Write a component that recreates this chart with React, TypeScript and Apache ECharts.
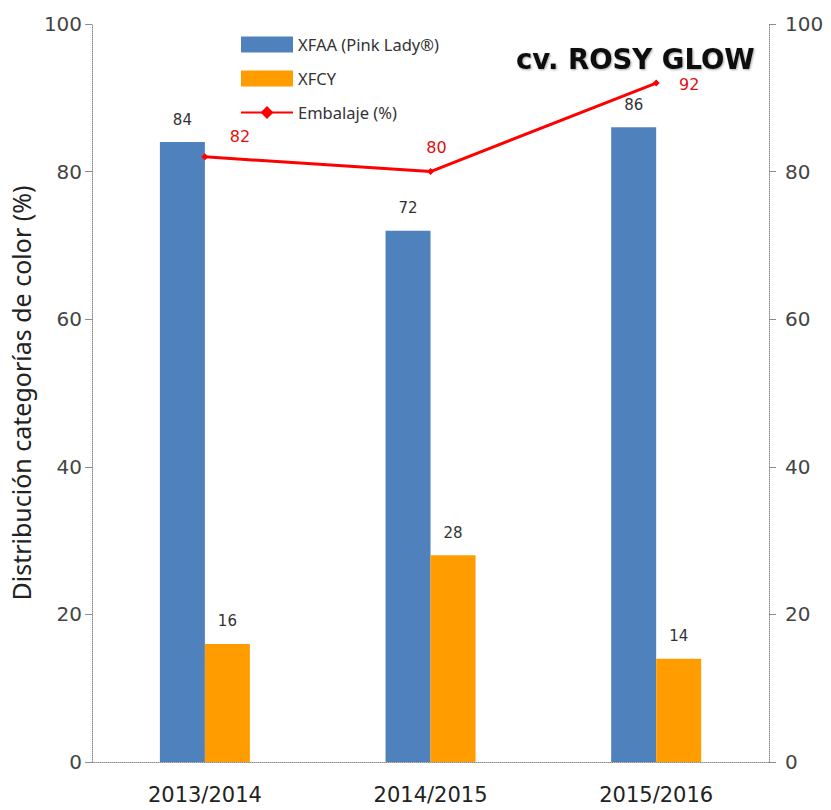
import React, { useEffect, useRef } from "react";
import * as echarts from "echarts";

const categories = ["2013/2014", "2014/2015", "2015/2016"];
const xfaaValues = [84, 72, 86];
const xfcyValues = [16, 28, 14];
const embalajeValues = [82, 80, 92];
const yTicks = [0, 20, 40, 60, 80, 100];

export default function App() {
  const ref = useRef<HTMLDivElement>(null);
  useEffect(() => {
    if (!ref.current) return;
    const chart = echarts.init(ref.current, null, { renderer: "svg" });
    const lineOffsets = [
      [35, -4],
      [6, -8],
      [33, 18],
    ];
    const axisLineStyle = { color: "#8c8c8c", type: "dotted" as const, width: 1 };
    const yAxisBase = {
      type: "value" as const,
      min: yTicks[0],
      max: yTicks[yTicks.length - 1],
      interval: 20,
      splitLine: { show: false },
      axisLine: { show: true, lineStyle: axisLineStyle },
      axisTick: { show: true, length: 7, lineStyle: { color: "#8c8c8c" } },
    };
    chart.setOption({
      animation: false,
      backgroundColor: "#ffffff",
      title: {
        text: "cv. ROSY GLOW",
        left: 511,
        top: 40,
        textStyle: {
          fontFamily: "DejaVu Sans",
          fontWeight: "bold",
          fontSize: 27.5,
          color: "#111",
          textShadowColor: "rgba(0,0,0,0.35)",
          textShadowBlur: 2,
          textShadowOffsetX: 1,
          textShadowOffsetY: 1,
        },
      },
      legend: {
        orient: "vertical",
        left: 235,
        top: 31,
        itemWidth: 52,
        itemHeight: 16,
        itemGap: 17,
        textStyle: { fontFamily: "Noto Sans", fontSize: 16.5, color: "#333" },
        data: [
          { name: "XFAA (Pink Lady®)", icon: "rect" },
          { name: "XFCY", icon: "rect" },
          { name: "Embalaje (%)", itemStyle: { borderWidth: 0 } },
        ],
      },
      grid: { left: 90, right: 62, top: 24, bottom: 48 },
      xAxis: {
        type: "category",
        data: categories,
        axisLine: { show: true, lineStyle: axisLineStyle },
        axisTick: { show: false },
        axisLabel: {
          margin: 22,
          fontFamily: "DejaVu Sans",
          fontSize: 21,
          color: "#222",
        },
      },
      yAxis: [
        {
          ...yAxisBase,
          position: "left",
          name: "Distribución categorías de color (%)",
          nameLocation: "middle",
          nameGap: 52,
          nameTextStyle: { fontFamily: "Noto Sans", fontSize: 25, color: "#222" },
          axisLabel: { margin: 10, fontFamily: "DejaVu Sans", fontSize: 20, color: "#444" },
        },
        {
          ...yAxisBase,
          position: "right",
          axisLabel: { margin: 16, fontFamily: "DejaVu Sans", fontSize: 20, color: "#444" },
        },
      ],
      series: [
        {
          name: "XFAA (Pink Lady®)",
          type: "bar",
          data: xfaaValues,
          barWidth: 45,
          barGap: "0%",
          itemStyle: { color: "#4f81bd" },
          label: {
            show: true,
            position: "top",
            distance: 15,
            fontFamily: "DejaVu Sans",
            fontSize: 15,
            color: "#333",
          },
        },
        {
          name: "XFCY",
          type: "bar",
          data: xfcyValues,
          barWidth: 45,
          barGap: "0%",
          itemStyle: { color: "#ff9c00" },
          label: {
            show: true,
            position: "top",
            distance: 15,
            fontFamily: "DejaVu Sans",
            fontSize: 15,
            color: "#333",
          },
        },
        {
          name: "Embalaje (%)",
          type: "line",
          yAxisIndex: 1,
          data: embalajeValues.map((v, i) => ({
            value: v,
            label: { offset: lineOffsets[i] },
          })),
          symbol: "diamond",
          symbolSize: 7,
          lineStyle: { color: "#ff0000", width: 3 },
          itemStyle: { color: "#ff0000" },
          label: {
            show: true,
            position: "top",
            distance: 5,
            fontFamily: "DejaVu Sans",
            fontSize: 16,
            color: "#e01010",
          },
        },
      ],
    });
    return () => chart.dispose();
  }, []);
  return (
    <div
      ref={ref}
      style={{ position: "fixed", left: 0, top: 0, width: 831, height: 810 }}
    />
  );
}
